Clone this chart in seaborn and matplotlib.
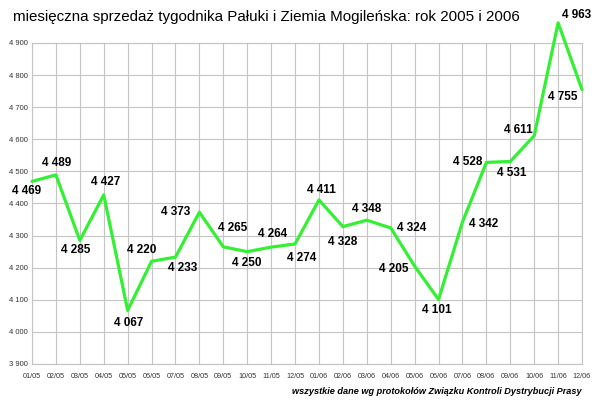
import matplotlib
matplotlib.use("Agg")
import matplotlib.pyplot as plt
import seaborn as sns
import pandas as pd

months = ["01/05", "02/05", "03/05", "04/05", "05/05", "06/05", "07/05", "08/05",
          "09/05", "10/05", "11/05", "12/05", "01/06", "02/06", "03/06", "04/06",
          "05/06", "06/06", "07/06", "08/06", "09/06", "10/06", "11/06", "12/06"]
sales = [4469, 4489, 4285, 4427, 4067, 4220, 4233, 4373, 4265, 4250, 4264, 4274,
         4411, 4328, 4348, 4324, 4205, 4101, 4342, 4528, 4531, 4611, 4963, 4755]
y_ticks = [3900, 4000, 4100, 4200, 4300, 4400, 4500, 4600, 4700, 4800, 4900]
title = "miesięczna sprzedaż tygodnika Pałuki i Ziemia Mogileńska: rok 2005 i 2006"
footer = "wszystkie dane wg protokołów Związku Kontroli Dystrybucji Prasy"

# label placement (pixel offsets from each point), style only
label_offsets = [(-5, -10), (1, 12), (-4, -10), (2, 13), (1, -13), (-10, 11),
                 (7, -11), (-24, 0), (9, 19), (0, -11), (1, 13), (7, -14),
                 (2, 10), (0, -15), (0, 11), (21, 0), (-21, -3), (-2, -11),
                 (21, -2), (-19, 0), (1, -12), (-16, 6), (18, 8), (-19, -7)]

def fmt(v):
    return f"{v:,}".replace(",", " ")

sns.set_theme(style="whitegrid")
plt.rcParams["font.family"] = ["Liberation Sans", "DejaVu Sans"]

df = pd.DataFrame({"idx": range(len(months)), "sales": sales})

fig = plt.figure(figsize=(6, 4.05), dpi=100)
ax = fig.add_axes([32/600, 1-364/405, 550/600, 321/405])
ax.set_facecolor("white")

sns.lineplot(data=df, x="idx", y="sales", ax=ax, color="#33f033", linewidth=2.3,
             clip_on=False, zorder=3)

for i, (v, off) in enumerate(zip(sales, label_offsets)):
    ax.annotate(fmt(v), (i, v), xytext=off, textcoords="offset pixels",
                ha="center", va="center", fontsize=8.5, fontweight="bold",
                color="black", zorder=4, annotation_clip=False)

ax.set_xlim(0, len(months) - 1)
ax.set_ylim(3900, 4900)
ax.set_xticks(range(len(months)))
ax.set_xticklabels(months)
ax.set_yticks(y_ticks)
ax.set_yticklabels([fmt(t) for t in y_ticks])
ax.tick_params(axis="x", labelsize=5.2, pad=6.5, length=0, colors="#333333")
ax.tick_params(axis="y", labelsize=5.5, pad=3, length=0, colors="#333333")
ax.set_xlabel("")
ax.set_ylabel("")
ax.grid(True, color="#c4c4c4", linewidth=0.8)
for s in ax.spines.values():
    s.set_color("#c4c4c4")
    s.set_linewidth(0.8)

fig.text(13/600, 1-17/405, title, ha="left", va="center", fontsize=10.9, color="black")
fig.text(582/600, 1-391/405, footer, ha="right", va="center", fontsize=6.6,
         fontweight="bold", fontstyle="italic", color="black")

fig.savefig("out.png", dpi=100, facecolor="white")
